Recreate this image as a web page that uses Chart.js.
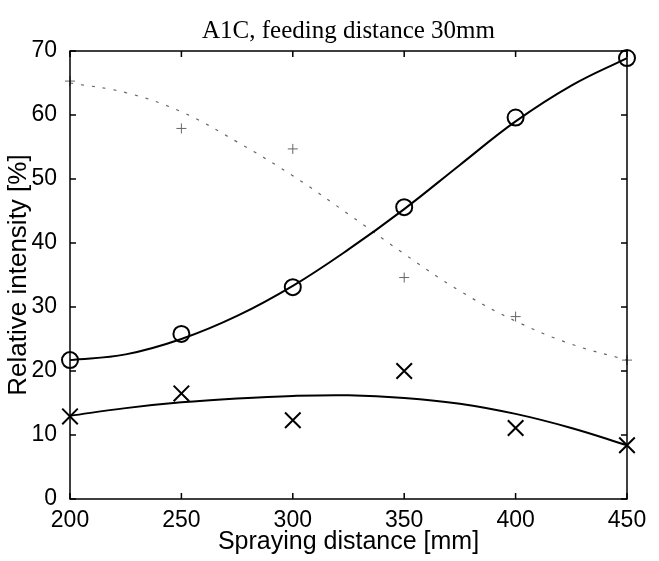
<!DOCTYPE html>
<html>
<head>
<meta charset="utf-8">
<script src="https://cdn.jsdelivr.net/npm/chart.js@4"></script>
<style>
  html, body { margin: 0; padding: 0; background: #fff; }
  #wrap { width: 659px; height: 561px; }
</style>
</head>
<body>
<div id="wrap"><canvas id="canvas" width="659" height="561"></canvas></div>
<script>
// measured points
const distances = [200, 250, 300, 350, 400, 450]
const circleVals = [21.7, 25.8, 33.1, 45.6, 59.6, 68.9]
const crossVals = [12.9, 16.5, 12.3, 20.0, 11.1, 8.4]
const plusVals = [65.3, 57.9, 54.7, 34.6, 28.5, 21.7]

// fitted curves, every 25 mm
const fitX = [200, 225, 250, 275, 300, 325, 350, 375, 400, 425, 450]
const circleFit = [21.7, 22.6, 25.0, 28.6, 33.3, 39.0, 45.3, 52.2, 59.0, 64.6, 68.9]
const crossFit = [13.0, 14.2, 15.1, 15.7, 16.1, 16.2, 15.8, 14.9, 13.3, 11.1, 8.4]
const plusFit = [65.0, 63.5, 60.5, 55.8, 50.5, 44.5, 38.3, 32.5, 27.8, 24.2, 21.7]

const xTicks = [200, 250, 300, 350, 400, 450]
const yTicks = [0, 10, 20, 30, 40, 50, 60, 70]

const toXY = (xs, ys) => xs.map((x, i) => ({ x: x, y: ys[i] }))

// matlab style frame with ticks pointing inwards
const frame = {
  id: 'frame',
  afterDatasetsDraw(chart) {
    const c = chart.ctx
    const a = chart.chartArea
    const sx = chart.scales.x
    const sy = chart.scales.y
    const len = 6
    c.save()
    c.strokeStyle = '#000'
    c.lineWidth = 1.5
    c.strokeRect(a.left, a.top, a.right - a.left, a.bottom - a.top)
    c.beginPath()
    xTicks.forEach(v => {
      const px = sx.getPixelForValue(v)
      c.moveTo(px, a.bottom); c.lineTo(px, a.bottom - len)
      c.moveTo(px, a.top); c.lineTo(px, a.top + len)
    })
    yTicks.forEach(v => {
      const py = sy.getPixelForValue(v)
      c.moveTo(a.left, py); c.lineTo(a.left + len, py)
      c.moveTo(a.right, py); c.lineTo(a.right - len, py)
    })
    c.stroke()
    c.restore()
  }
}

const ctx = document.getElementById('canvas')

new Chart(ctx, {
  type: 'line',
  data: {
    datasets: [
      {
        label: 'circle fit',
        data: toXY(fitX, circleFit),
        borderColor: '#000',
        borderWidth: 2,
        pointRadius: 0,
        tension: 0.4,
        clip: false
      },
      {
        label: 'cross fit',
        data: toXY(fitX, crossFit),
        borderColor: '#000',
        borderWidth: 2,
        pointRadius: 0,
        tension: 0.4,
        clip: false
      },
      {
        label: 'plus fit',
        data: toXY(fitX, plusFit),
        borderColor: '#666',
        borderWidth: 1.2,
        borderDash: [3, 8],
        pointRadius: 0,
        tension: 0.4,
        clip: false
      },
      {
        label: 'circles',
        data: toXY(distances, circleVals),
        showLine: false,
        pointStyle: 'circle',
        pointRadius: 8,
        pointBorderWidth: 2,
        pointBorderColor: '#000',
        pointBackgroundColor: 'rgba(0,0,0,0)',
        clip: false
      },
      {
        label: 'crosses',
        data: toXY(distances, crossVals),
        showLine: false,
        pointStyle: 'crossRot',
        pointRadius: 11,
        pointBorderWidth: 2,
        pointBorderColor: '#000',
        clip: false
      },
      {
        label: 'plus',
        data: toXY(distances, plusVals),
        showLine: false,
        pointStyle: 'cross',
        pointRadius: 5,
        pointBorderWidth: 1,
        pointBorderColor: '#666',
        clip: false
      }
    ]
  },
  options: {
    responsive: false,
    animation: false,
    layout: { padding: { right: 32 } },
    plugins: {
      legend: { display: false },
      tooltip: { enabled: false },
      title: {
        display: true,
        fullSize: false,
        text: 'A1C, feeding distance 30mm',
        color: '#000',
        font: { family: '"Liberation Serif", "Times New Roman", serif', size: 25, weight: 'normal' },
        padding: { top: 16, bottom: 5 }
      }
    },
    scales: {
      x: {
        type: 'linear',
        min: 200,
        max: 450,
        afterFit: s => { s.height = 62 },
        afterBuildTicks: s => { s.ticks = xTicks.map(v => ({ value: v })) },
        grid: { display: false },
        border: { display: false },
        ticks: {
          color: '#000',
          padding: 0,
          font: { family: '"Liberation Sans", Arial, sans-serif', size: 23 }
        },
        title: {
          display: true,
          text: 'Spraying distance [mm]',
          color: '#000',
          padding: { top: 0, bottom: 4 },
          font: { family: '"Liberation Sans", Arial, sans-serif', size: 25 }
        }
      },
      y: {
        min: 0,
        max: 70,
        afterFit: s => { s.width = 70 },
        afterBuildTicks: s => { s.ticks = yTicks.map(v => ({ value: v })) },
        grid: { display: false },
        border: { display: false },
        ticks: {
          color: '#000',
          padding: 5,
          font: { family: '"Liberation Sans", Arial, sans-serif', size: 23 }
        },
        title: {
          display: true,
          text: 'Relative intensity [%]',
          color: '#000',
          padding: { top: 3, bottom: 0 },
          font: { family: '"Liberation Sans", Arial, sans-serif', size: 26 }
        }
      }
    }
  },
  plugins: [frame]
});
</script>
</body>
</html>
